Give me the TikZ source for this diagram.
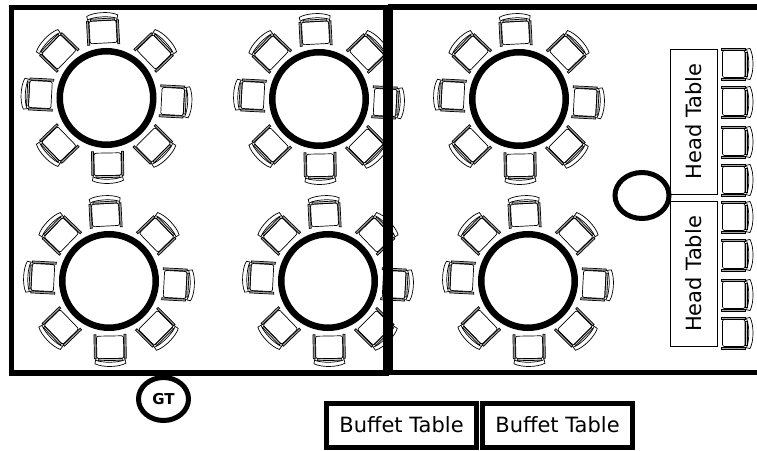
\documentclass[tikz,border=0pt]{standalone}
\usepackage{fontspec}
\setmainfont{DejaVu Sans}
\usetikzlibrary{shapes.geometric}
\tikzset{
	roundtable/.style = {shape=circle, draw, line width=6.5pt, inner sep=0pt, minimum size=93.5pt},
	wall/.style = {draw, line width=5.5pt, miter limit=10},
	headtable/.style = {shape=rectangle, draw, line width=0.8pt, rotate=90, minimum width=145pt, minimum height=47pt, inner sep=0pt, font=\fontsize{21}{24}\selectfont},
	buffettable/.style = {shape=rectangle, draw, line width=5pt, minimum width=150pt, minimum height=44pt, inner sep=0pt, font=\fontsize{21}{24}\selectfont},
	guest/.style = {shape=ellipse, draw, fill=white, line width=5pt, inner sep=0pt},
	chair line/.style = {line width=0.7pt},
	pics/chair/.style = {code = {
		% arms, then seat, then the curved back
		\draw[chair line, fill=gray!70] (-16,-16) rectangle (-14,8);
		\draw[chair line, fill=gray!70] (14,-16) rectangle (16,8);
		\draw[chair line, fill=gray!40] (-12,8) rectangle (12,10);
		\draw[chair line, rounded corners=2pt] (-13.5,-14.5) rectangle (13.5,8);
		\draw[chair line] (-14.5,9.5) .. controls (-8,12.5) and (8,12.5) .. (14.5,9.5);
		\draw[chair line] (-14.5,8) -- (-15.5,13) .. controls (-8,17) and (8,17) .. (15.5,13) -- (14.5,8);
	}}
}
\begin{document}
\begin{tikzpicture}[x=1pt, y=1pt]
	\useasboundingbox (0,0) rectangle (757,450);
	% chairs round each table, back to the outside
	\foreach \tablename/\cx/\cy in {one/106.5/352, two/319/351, three/519/351, four/109/169, five/328/169, six/528/169} {
		\node[roundtable] (\tablename) at (\cx,\cy) {};
		\foreach \ang in {93,136,177,224,271,315,357,44}
			\path (\tablename.center) ++(\ang:69.5) pic[rotate=\ang-90] {chair};
	}
	% walls go over the chairs
	\draw[wall] (11.5,442.5) rectangle (386,77);
	\draw[wall] (757,443) -- (390.5,443) -- (390.5,77.5) -- (757,77.5);
	% head tables and their chairs
	\node[headtable] (head top) at (693.5,328.5) {Head Table};
	\node[headtable] (head bottom) at (693.5,176) {Head Table};
	\foreach \cy in {386,348,308,270,233,195,155,117}
		\path (737,\cy) pic[rotate=-90] {chair};
	\node[guest, minimum width=54pt, minimum height=46pt] (guest one) at (642,254.5) {};
	\node[guest, minimum width=50pt, minimum height=43pt, font=\bfseries\fontsize{15}{17}\selectfont] (gt) at (163.5,51) {GT};
	% buffet
	\node[buffettable] (buffet left) at (401.5,25) {Buffet Table};
	\node[buffettable] (buffet right) at (557.5,25) {Buffet Table};
\end{tikzpicture}
\end{document}
